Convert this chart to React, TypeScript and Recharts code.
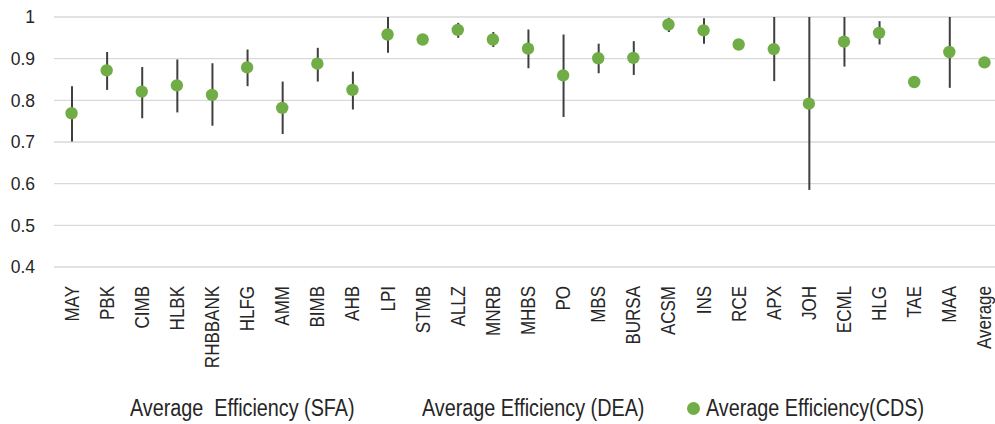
import React from 'react'
import { ComposedChart, Bar, Line, XAxis, YAxis, CartesianGrid } from 'recharts'

// Banks on the x axis
const banks = [
  'MAY', 'PBK', 'CIMB', 'HLBK', 'RHBBANK', 'HLFG', 'AMM', 'BIMB', 'AHB', 'LPI',
  'STMB', 'ALLZ', 'MNRB', 'MHBS', 'PO', 'MBS', 'BURSA', 'ACSM', 'INS', 'RCE',
  'APX', 'JOH', 'ECML', 'HLG', 'TAE', 'MAA', 'Average',
]

const sfa = [
  0.701, 0.825, 0.757, 0.771, 0.739, 0.834, 0.719, 0.845, 0.778, 0.914,
  0.944, 0.950, 0.928, 0.877, 0.760, 0.865, 0.861, 0.964, 0.936, 0.932,
  0.846, 0.585, 0.881, 0.934, 0.842, 0.830, 0.889,
]
const dea = [
  0.834, 0.916, 0.880, 0.898, 0.889, 0.922, 0.845, 0.926, 0.869, 1.0,
  0.948, 0.986, 0.964, 0.970, 0.958, 0.936, 0.942, 0.998, 0.997, 0.936,
  1.0, 1.0, 1.0, 0.990, 0.846, 1.0, 0.893,
]
const cds = [
  0.769, 0.872, 0.821, 0.836, 0.813, 0.879, 0.782, 0.888, 0.825, 0.958,
  0.946, 0.969, 0.946, 0.924, 0.860, 0.901, 0.902, 0.982, 0.968, 0.934,
  0.923, 0.792, 0.941, 0.962, 0.844, 0.916, 0.891,
]
const yTicks = [0.4, 0.5, 0.6, 0.7, 0.8, 0.9, 1]

const data = banks.map((name, i) => ({
  name,
  sfa: sfa[i],
  dea: dea[i],
  cds: cds[i],
  range: [Math.min(sfa[i], dea[i]), Math.max(sfa[i], dea[i])],
}))

const GREEN = '#70ad47'
const TEXT = '#262626'
const FONT = '"Liberation Sans", Arial, sans-serif'

// narrow look of the original labels: squeeze along the reading direction
const XTick = ({ x, y, payload }: { x?: number; y?: number; payload?: { value: string } }) => (
  <g transform={`translate(${(x ?? 0) + 7},${(y ?? 0) + 17}) rotate(-90) scale(0.85,1)`}>
    <text x={0} y={0} textAnchor="end" fontSize={20} fontFamily={FONT} fill={TEXT}>
      {payload?.value}
    </text>
  </g>
)

const legendText: React.CSSProperties = {
  position: 'absolute', top: 394, fontFamily: FONT, fontSize: 23,
  color: TEXT, whiteSpace: 'pre', lineHeight: '28px',
  transform: 'scaleX(0.86)', transformOrigin: 'left center',
}

export default function App() {
  return (
    <div style={{ position: 'relative', width: 995, height: 424, overflow: 'hidden', background: '#fff' }}>
      <style>{'body{margin:0}'}</style>
      <ComposedChart width={1002} height={424} data={data} margin={{ top: 17, right: 0, left: 0, bottom: 0 }}>
        <CartesianGrid stroke="#d9d9d9" strokeWidth={1.3} vertical={false} />
        <XAxis dataKey="name" interval={0} height={157} tick={<XTick />}
          axisLine={false} tickLine={false} tickSize={0} />
        <YAxis domain={[0.4, 1]} ticks={yTicks} width={54} axisLine={false} tickLine={false}
          tickSize={0} tickMargin={19}
          tick={{ fontSize: 17.5, fill: TEXT, fontFamily: FONT }} />
        <Bar dataKey="range" barSize={2} fill="#3f3f3f" isAnimationActive={false} />
        <Line dataKey="cds" stroke="none" isAnimationActive={false}
          dot={{ r: 6.2, fill: GREEN, stroke: 'none' }} activeDot={false} />
      </ComposedChart>
      <div style={{ ...legendText, left: 130 }}>Average  Efficiency (SFA)</div>
      <div style={{ ...legendText, left: 422 }}>Average Efficiency (DEA)</div>
      <div style={{ position: 'absolute', left: 687, top: 402, width: 13, height: 13, borderRadius: '50%', background: GREEN }} />
      <div style={{ ...legendText, left: 706 }}>Average Efficiency(CDS)</div>
    </div>
  )
}
